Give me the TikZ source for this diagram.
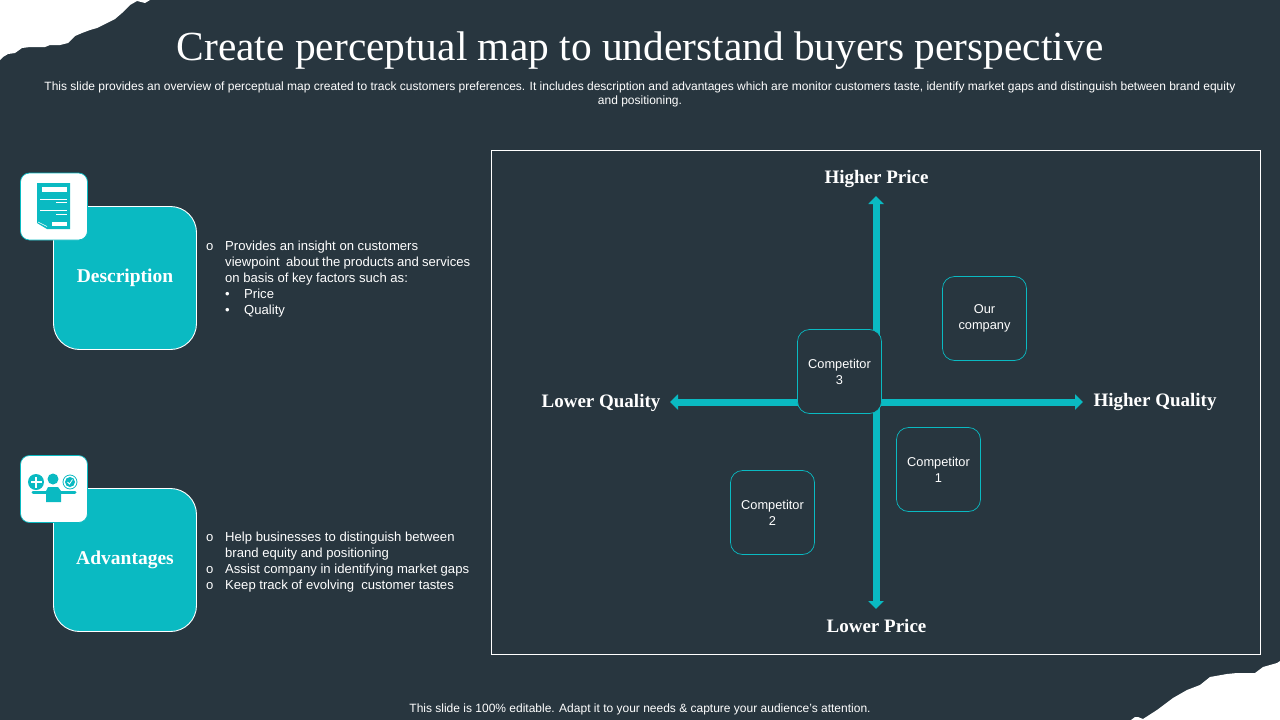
\documentclass[tikz,border=0pt]{standalone}
\usepackage{fontspec}
\setmainfont{Liberation Sans}
\newfontfamily\serifhead{Liberation Serif}
\usetikzlibrary{arrows.meta}
\definecolor{bgdark}{HTML}{28363F}
\definecolor{tealmain}{HTML}{0ABAC2}
\tikzset{
  x=1pt,y=-1pt,
  cardbox/.style={draw=white,line width=0.9pt,fill=tealmain,rounded corners=26pt,minimum width=143pt,minimum height=143pt,inner sep=0pt,font=\serifhead\bfseries\fontsize{19.5}{22}\selectfont,text=white},
  iconbox/.style={draw=tealmain,line width=0.7pt,fill=white,rounded corners=9pt,minimum width=67pt,minimum height=67pt,inner sep=0pt},
  compbox/.style={draw=tealmain,line width=0.7pt,fill=bgdark,rounded corners=12pt,minimum width=84pt,minimum height=84pt,inner sep=0pt,align=center,text=white,font=\fontsize{12.8}{16}\selectfont},
  axislabel/.style={text=white,font=\serifhead\bfseries\fontsize{19}{22}\selectfont,inner sep=0pt},
  bodytext/.style={text=white,font=\fontsize{13.1}{16}\selectfont,anchor=north west,inner sep=0pt,align=left},
  marktext/.style={text=white,font=\fontsize{13.1}{16}\selectfont,anchor=north west,inner sep=0pt},
  axisline/.style={tealmain,line width=7pt,{Triangle[width=15pt,length=8pt]}-{Triangle[width=15pt,length=8pt]}},
  iconwhite/.style={fill=white,draw=none},
}
\begin{document}
\begin{tikzpicture}
\useasboundingbox (0,0) rectangle (1280,720);
\fill[bgdark] (0,0) rectangle (1280,720);
% torn corners
\fill[white] (0,0) -- (0,60) -- (3,57) -- (8,54) -- (15,53) -- (22,48) -- (30,47) -- (45,47) -- (50,45) -- (60,45) -- (68,43) -- (75,36) -- (82,33) -- (90,30) -- (97,28) -- (105,24) -- (115,19) -- (122,13) -- (130,5) -- (137,1) -- (145,3) -- (150,0) -- cycle;
\fill[white] (1280,720) -- (1131,720) -- (1135,717) -- (1138,717) -- (1143,719) -- (1157,710) -- (1173,698) -- (1187,690) -- (1200,685) -- (1210,677) -- (1227,674) -- (1237,673) -- (1255,673) -- (1263,667) -- (1277,663) -- (1280,661) -- cycle;
% title
\node[text=white,font=\serifhead\fontsize{41.400}{48}\selectfont,inner sep=0pt] (title) at (640,51) {Create perceptual map to understand buyers perspective};
\node[text=white,font=\fontsize{12}{14.5}\selectfont,align=center,inner sep=0pt] (subtitle) at (640,94.500) {This slide provides an overview of perceptual map created to track customers preferences. It includes description and advantages which are monitor customers taste, identify market gaps and distinguish between brand equity\\and positioning.};
% left cards
\node[cardbox] (desc) at (125,278) {\raisebox{-2pt}{Description}};
\node[cardbox] (adv) at (125,560) {\raisebox{-2pt}{Advantages}};
\node[iconbox] (icondoc) at (54,206.500) {};
\node[iconbox] (iconadv) at (54,489) {};
% document icon
\fill[tealmain] (37,183) -- (70,183) -- (70,229) -- (47,229) -- (37,223) -- cycle;
\fill[iconwhite] (41.500,187) rectangle (67,191.500);
\fill[iconwhite] (40,198.500) rectangle (67,199.500);
\fill[iconwhite] (56,202) rectangle (67,203);
\fill[iconwhite] (40,210) rectangle (67,211);
\fill[iconwhite] (56,213.500) rectangle (67,215);
\fill[iconwhite] (52,222) rectangle (67,226);
\draw[white,line width=0.6pt] (38,222) -- (47,226.500);
% balance icon
\fill[tealmain] (36,482) circle (8);
\fill[iconwhite] (34.700,476.500) rectangle (37.300,487.500);
\fill[iconwhite] (30.500,480.700) rectangle (41.500,483.300);
\fill[tealmain] (53,479) circle (5.500);
\draw[tealmain,line width=0.8pt] (70,482) circle (7);
\fill[tealmain] (70,482) circle (5);
\draw[white,line width=0.8pt] (67.500,482) -- (69.500,484) -- (72.500,479.500);
\draw[tealmain,line width=3pt,line cap=round] (33,492) -- (75,492);
\fill[tealmain] (48,487) -- (58,487) -- (61,491) -- (61,502) -- (46,502) -- (46,491) -- cycle;
% left lists
\node[marktext] (m1) at (206,239) {\strut o};
\node[bodytext] (t1) at (225,239) {\strut Provides an insight on customers\\\makebox[245pt][s]{viewpoint\ \ about the products and services}\\on basis of key factors such as:};
\node[marktext] (m2) at (225,287) {\strut •};
\node[bodytext] (t2) at (244,287) {\strut Price\\Quality};
\node[marktext] (m3) at (225,303) {\strut •};
\node[marktext] (m4) at (206,530) {\strut o};
\node[bodytext] (t4) at (225,530) {\strut Help businesses to distinguish between\\brand equity and positioning};
\node[marktext] (m5) at (206,562) {\strut o};
\node[bodytext] (t5) at (225,562) {\strut Assist company in identifying market gaps};
\node[marktext] (m6) at (206,578) {\strut o};
\node[bodytext] (t6) at (225,578) {\strut Keep track of evolving\ \ customer tastes};
% map frame
\node[draw=white,line width=0.7pt,minimum width=769.500pt,minimum height=504pt,inner sep=0pt] (frame) at (875.750,402.500) {};
% axis ends and labels
\node[axislabel] (hp) at (876.500,179.500) {Higher Price};
\node[axislabel] (lp) at (876.500,625.500) {Lower Price};
\node[axislabel] (lq) at (601,402.500) {Lower Quality};
\node[axislabel] (hq) at (1155,402.500) {Higher Quality};
\coordinate (atop) at (876,196);
\coordinate (abot) at (876,609);
\coordinate (alef) at (670,402);
\coordinate (arig) at (1083,402);
\draw[axisline] (atop) -- (abot);
\draw[axisline] (alef) -- (arig);
% competitors
\node[compbox] (c3) at (839.500,371.500) {Competitor\\3};
\node[compbox] (oc) at (984.500,318.500) {Our\\company};
\node[compbox] (c1) at (938.500,469.500) {Competitor\\1};
\node[compbox] (c2) at (772.500,512.500) {Competitor\\2};
% footer
\node[text=white,font=\fontsize{12}{14}\selectfont,inner sep=0pt] (foot) at (640,709) {This slide is 100\% editable. Adapt it to your needs \& capture your audience’s attention.};
\end{tikzpicture}
\end{document}
